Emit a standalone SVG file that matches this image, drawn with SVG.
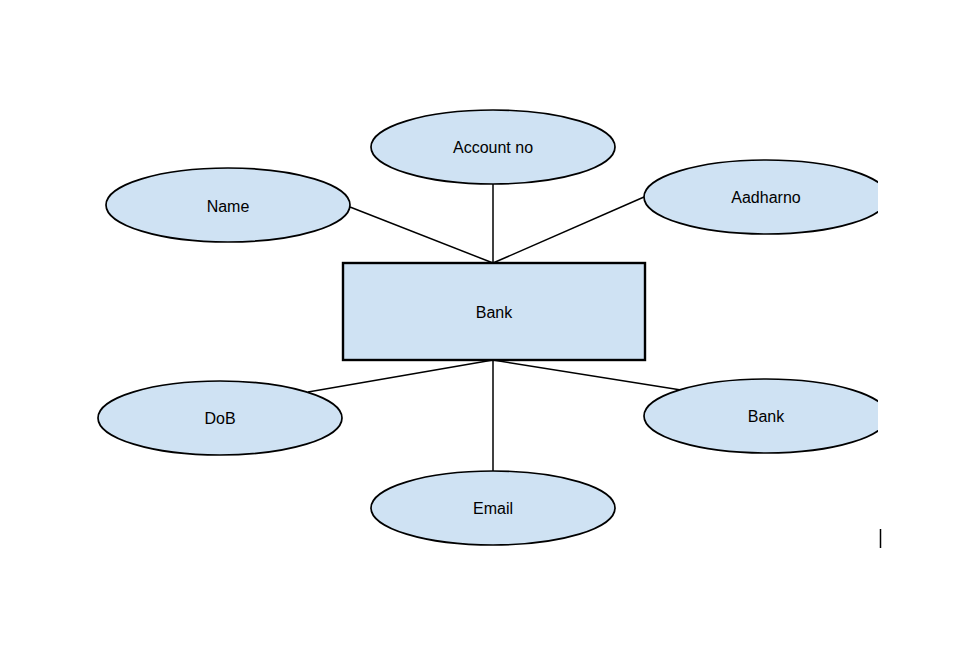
<svg xmlns="http://www.w3.org/2000/svg" width="966" height="658" viewBox="0 0 966 658">
<style>
.n{fill:#cfe2f3;stroke:#000;stroke-width:1.7}
.r{fill:#cfe2f3;stroke:#000;stroke-width:2.4}
.t{font-family:"Liberation Sans",Arial,sans-serif;font-size:16px;fill:#000;text-anchor:middle;dominant-baseline:central}
.c{stroke:#000;stroke-width:1.5;fill:none}
</style>
<defs><clipPath id="clip"><rect x="0" y="0" width="878" height="658"/></clipPath></defs>
<rect width="966" height="658" fill="#fff"/>
<g id="connectors">
<line class="c" x1="350" y1="207" x2="493" y2="263"/>
<line class="c" x1="493" y1="184" x2="493" y2="263"/>
<line class="c" x1="644" y1="197" x2="493" y2="263"/>
<line class="c" x1="493" y1="360" x2="308" y2="392"/>
<line class="c" x1="493" y1="360" x2="493" y2="471"/>
<line class="c" x1="493" y1="360" x2="681" y2="390"/>
</g>
<g id="bank-entity"><rect class="r" x="343" y="263" width="302" height="97"/><text class="t" x="494" y="312">Bank</text></g>
<g id="account-no"><ellipse class="n" cx="493" cy="147" rx="122" ry="37"/><text class="t" x="493" y="147">Account no</text></g>
<g id="name"><ellipse class="n" cx="228" cy="205" rx="122" ry="37"/><text class="t" x="228" y="206">Name</text></g>
<g id="aadharno" clip-path="url(#clip)"><ellipse class="n" cx="766" cy="197" rx="122" ry="37"/><text class="t" x="766" y="197">Aadharno</text></g>
<g id="dob"><ellipse class="n" cx="220" cy="418" rx="122" ry="37"/><text class="t" x="220" y="418">DoB</text></g>
<g id="email"><ellipse class="n" cx="493" cy="508" rx="122" ry="37"/><text class="t" x="493" y="508">Email</text></g>
<g id="bank-attr" clip-path="url(#clip)"><ellipse class="n" cx="766" cy="416" rx="122" ry="37"/><text class="t" x="766" y="416">Bank</text></g>
<line x1="880.5" y1="529" x2="880.5" y2="548" stroke="#000" stroke-width="1.5"/>
</svg>
